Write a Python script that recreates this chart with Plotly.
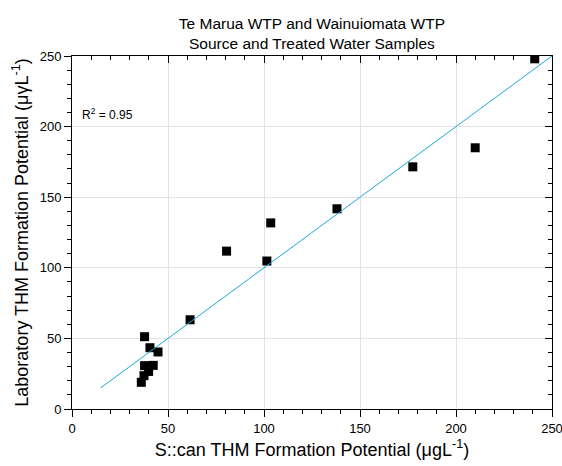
import plotly.graph_objects as go

# Data
scan_thm = [241, 210, 177.5, 138, 103.5, 101.5, 80.5, 61.5, 37.8, 40.6, 44.8, 37.8, 42.3, 39.9, 37.5, 36.1]
lab_thm = [248, 185, 171.5, 141.8, 131.8, 104.8, 111.8, 63.2, 51.2, 43.4, 40.4, 30.7, 30.9, 26.6, 23.6, 18.9]
fit_x = [15, 250]
fit_y = [15, 250]
r2_text = "R<sup>2</sup> = 0.95"

fig = go.Figure()
fig.add_trace(go.Scatter(x=fit_x, y=fit_y, mode="lines", xaxis="x2", yaxis="y2",
                         line=dict(color="#1aa7e0", width=1), showlegend=False))
fig.add_trace(go.Scatter(x=scan_thm, y=lab_thm, mode="markers",
                         marker=dict(symbol="square", size=9, color="black", line=dict(width=0)),
                         showlegend=False))

font = "Arial, Liberation Sans, sans-serif"
common = dict(range=[0, 250], dtick=50, showline=True, linewidth=1, linecolor="black",
              tickcolor="black", zeroline=False, automargin=False, ticklen=7)

fig.update_layout(
    width=562, height=466,
    margin=dict(l=72, r=10, t=56, b=57),
    paper_bgcolor="white", plot_bgcolor="white",
    font=dict(family=font, size=13, color="black"),
    title=dict(text="Te Marua WTP and Wainuiomata WTP<br>Source and Treated Water Samples",
               x=0.555, xanchor="center", yref="container", y=1 - 29 / 466, yanchor="middle",
               font=dict(family=font, size=15.5, color="black")),
    xaxis=dict(**common, ticks="outside", mirror=True,
               showgrid=True, gridcolor="#e3e3e3", gridwidth=1, ticklabeloverflow="allow",
               minor=dict(dtick=10, ticks="outside", ticklen=4, tickcolor="black", showgrid=False),
               tickfont=dict(size=13),
               title=dict(text="S::can THM Formation Potential (μgL<sup>-1</sup>)",
                          font=dict(size=18), standoff=8)),
    yaxis=dict(**common, ticks="outside", mirror=True,
               showgrid=True, gridcolor="#e3e3e3", gridwidth=1, ticklabeloverflow="allow",
               minor=dict(dtick=10, ticks="outside", ticklen=4, tickcolor="black", showgrid=False),
               tickfont=dict(size=13),
               title=dict(text="Laboratory THM Formation Potential (μγL<sup>-1</sup>)",
                          font=dict(size=18), standoff=6)),
    xaxis2=dict(**common, overlaying="x", side="top", anchor="y", ticks="inside",
                showticklabels=False, showgrid=False,
                minor=dict(dtick=10, ticks="inside", ticklen=4, tickcolor="black", showgrid=False)),
    yaxis2=dict(**common, overlaying="y", side="right", anchor="x", ticks="inside",
                showticklabels=False, showgrid=False,
                minor=dict(dtick=10, ticks="inside", ticklen=4, tickcolor="black", showgrid=False)),
    annotations=[dict(text=r2_text, x=4, y=209, xref="x", yref="y", xanchor="left",
                      yanchor="middle", showarrow=False, font=dict(size=12, color="black"))],
)

fig.write_html("out.html")
